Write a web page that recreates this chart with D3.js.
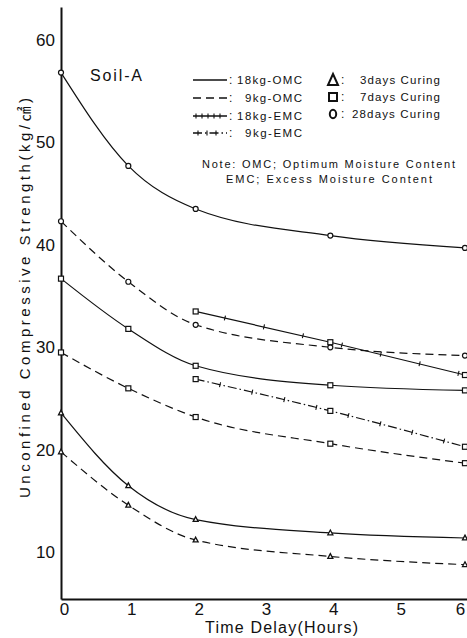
<!DOCTYPE html>
<html>
<head>
<meta charset="utf-8">
<script src="https://cdn.jsdelivr.net/npm/d3@7"></script>
<style>
  body { margin: 0; background: #fff; }
  svg text { font-family: "Liberation Sans", Arial, "Noto Sans CJK KR", sans-serif; fill: #111; }
</style>
</head>
<body>
<svg id="chart" width="467" height="638"></svg>
<script>
// (kg/cm2 vs hours)
var hours = [0, 1, 2, 4, 6];
var emcHours = [2, 4, 6];
var omc18_28 = [56.8, 47.7, 43.5, 40.9, 39.7];
var omc9_28  = [42.3, 36.4, 32.2, 30.0, 29.2];
var omc18_7  = [36.7, 31.8, 28.2, 26.3, 25.8];
var omc9_7   = [29.5, 26.0, 23.2, 20.6, 18.7];
var omc18_3  = [23.6, 16.5, 13.2, 11.9, 11.4];
var omc9_3   = [19.8, 14.6, 11.2, 9.6, 8.8];
var emc18_7  = [33.5, 30.5, 27.3];
var emc9_7   = [26.9, 23.8, 20.3];
var yTicks = [10, 20, 30, 40, 50, 60];
var xTicks = [0, 1, 2, 3, 4, 5, 6];

var legendLines = ["18kg-OMC", "9kg-OMC", "18kg-EMC", "9kg-EMC"];
var legendMarks = ["3days Curing", "7days Curing", "28days Curing"];

// series table: x values, y values, line style, marker
var series = [
  {x: hours, y: omc18_28, style: "solid", mark: "circle"},
  {x: hours, y: omc9_28, style: "dash", mark: "circle"},
  {x: hours, y: omc18_7, style: "solid", mark: "square"},
  {x: hours, y: omc9_7, style: "dash", mark: "square"},
  {x: hours, y: omc18_3, style: "solid", mark: "triangle"},
  {x: hours, y: omc9_3, style: "dash", mark: "triangle"},
  {x: emcHours, y: emc18_7, style: "plus", mark: "square"},
  {x: emcHours, y: emc9_7, style: "dashdot", mark: "square"}
];

var svg = d3.select("#chart");

var x = d3.scaleLinear().domain([0, 6.03]).range([61, 467]);
var y = d3.scaleLinear().domain([5.45, 63.2]).range([599, 7]);

// axes
var yAxis = d3.axisLeft(y).tickValues(yTicks).tickSize(0).tickPadding(6);
var gy = svg.append("g").attr("transform", "translate(61,0)").call(yAxis);
gy.select(".domain").attr("stroke", "#111").attr("stroke-width", 2);
gy.selectAll("text").attr("font-size", 17).attr("fill", "#111");

var xAxis = d3.axisBottom(x).tickValues(xTicks).tickSize(0).tickPadding(4).tickFormat(d3.format("d"));
var gx = svg.append("g").attr("transform", "translate(0,599)").call(xAxis);
gx.select(".domain").attr("stroke", "#111").attr("stroke-width", 2);
gx.selectAll("text").attr("font-size", 17).attr("fill", "#111")
  .attr("dx", function(d){ return d == 6 ? -5 : 3; });

// titles
svg.append("text")
  .attr("transform", "translate(30,298) rotate(-90)")
  .attr("text-anchor", "middle")
  .attr("font-size", 15)
  .attr("textLength", 400).attr("lengthAdjust", "spacing")
  .text("Unconfined Compressive Strength(kg/㎠)");

svg.append("text")
  .attr("x", 205).attr("y", 633)
  .attr("font-size", 16)
  .attr("textLength", 153).attr("lengthAdjust", "spacing")
  .text("Time Delay(Hours)");

svg.append("text")
  .attr("x", 90).attr("y", 81)
  .attr("font-size", 16)
  .attr("textLength", 52).attr("lengthAdjust", "spacing")
  .text("Soil-A");

var dashes = {solid: null, plus: null, dash: "8,5", dashdot: "9,3,1.5,3"};

// little cross ticks along a path (the "+" line styles)
function crossTicks(g, node, step, offset) {
  var len = node.getTotalLength();
  for (var s = offset; s < len - 2; s += step) {
    var p = node.getPointAtLength(s);
    var q = node.getPointAtLength(Math.min(len, s + 1));
    var a = Math.atan2(q.y - p.y, q.x - p.x) + Math.PI / 2;
    g.append("line")
      .attr("x1", p.x - 2.5 * Math.cos(a)).attr("y1", p.y - 2.5 * Math.sin(a))
      .attr("x2", p.x + 2.5 * Math.cos(a)).attr("y2", p.y + 2.5 * Math.sin(a))
      .attr("stroke", "#111").attr("stroke-width", 1.1);
  }
}

function drawMark(g, kind, cx, cy, size) {
  if (kind == "circle") {
    g.append("circle").attr("cx", cx).attr("cy", cy).attr("r", size * 0.5)
      .attr("fill", "#fff").attr("stroke", "#111").attr("stroke-width", 1.2);
  } else if (kind == "square") {
    g.append("rect").attr("x", cx - size / 2).attr("y", cy - size / 2)
      .attr("width", size).attr("height", size)
      .attr("fill", "#fff").attr("stroke", "#111").attr("stroke-width", 1.2);
  } else {
    var h = size * 0.95;
    g.append("path")
      .attr("d", "M" + cx + "," + (cy - h * 0.6) + "L" + (cx + size / 2) + "," + (cy + h * 0.4) +
                 "L" + (cx - size / 2) + "," + (cy + h * 0.4) + "Z")
      .attr("fill", "#fff").attr("stroke", "#111").attr("stroke-width", 1.3);
  }
}

var line = d3.line()
  .x(function(d){ return x(d[0]); })
  .y(function(d){ return y(d[1]); })
  .curve(d3.curveMonotoneX);

var plot = svg.append("g");
series.forEach(function(s){
  var pts = s.x.map(function(h, i){ return [h, s.y[i]]; });
  var p = plot.append("path")
    .attr("d", line(pts))
    .attr("fill", "none")
    .attr("stroke", "#111")
    .attr("stroke-width", 1.2)
    .attr("stroke-dasharray", dashes[s.style]);
  if (s.style == "plus") crossTicks(plot, p.node(), 40, 30);
  if (s.style == "dashdot") crossTicks(plot, p.node(), 33, 25);
  pts.forEach(function(d){ drawMark(plot, s.mark, x(d[0]), y(d[1]), 5); });
});

// legend: line styles
var lg = svg.append("g");
var lgStyles = ["solid", "dash", "plus", "dashdot"];
var lgY = [80, 98, 116, 133];
legendLines.forEach(function(name, i){
  var l = lg.append("path")
    .attr("d", "M193," + lgY[i] + "H227")
    .attr("stroke", "#111").attr("stroke-width", 1.4).attr("fill", "none")
    .attr("stroke-dasharray", dashes[lgStyles[i]]);
  if (lgStyles[i] == "plus") crossTicks(lg, l.node(), 6, 3);
  if (lgStyles[i] == "dashdot") crossTicks(lg, l.node(), 9, 5);
  lg.append("text").attr("x", 229).attr("y", lgY[i] + 4).attr("font-size", 12).text(":");
  var nine = name.indexOf("9kg") == 0;
  lg.append("text")
    .attr("x", nine ? 245 : 237)
    .attr("y", lgY[i] + 4)
    .attr("font-size", 11.5)
    .attr("textLength", nine ? 57 : 65).attr("lengthAdjust", "spacing")
    .text(name);
});

// legend: curing markers
var mkY = [80, 97, 114];
var mkKinds = ["triangle", "square", "circle"];
legendMarks.forEach(function(name, i){
  var g = lg.append("g");
  if (mkKinds[i] == "triangle") {
    g.append("path").attr("d", "M333,74L338,85L328,85Z")
      .attr("fill", "none").attr("stroke", "#111").attr("stroke-width", 2);
  } else if (mkKinds[i] == "square") {
    g.append("rect").attr("x", 329).attr("y", 93).attr("width", 8).attr("height", 8)
      .attr("fill", "none").attr("stroke", "#111").attr("stroke-width", 2);
  } else {
    g.append("ellipse").attr("cx", 333).attr("cy", 114).attr("rx", 3.2).attr("ry", 4.2)
      .attr("fill", "none").attr("stroke", "#111").attr("stroke-width", 2);
  }
  lg.append("text").attr("x", 341).attr("y", mkY[i] + 4).attr("font-size", 12).text(":");
  lg.append("text")
    .attr("x", name.indexOf("28") == 0 ? 352 : 360)
    .attr("y", mkY[i] + 4)
    .attr("font-size", 11.5)
    .attr("textLength", name.indexOf("28") == 0 ? 88 : 80).attr("lengthAdjust", "spacing")
    .text(name);
});

// note
svg.append("text").attr("x", 202).attr("y", 168).attr("font-size", 11)
  .attr("textLength", 253).attr("lengthAdjust", "spacing")
  .text("Note: OMC; Optimum Moisture Content");
svg.append("text").attr("x", 226).attr("y", 183).attr("font-size", 11)
  .attr("textLength", 206).attr("lengthAdjust", "spacing")
  .text("EMC; Excess Moisture Content");
</script>
</body>
</html>
